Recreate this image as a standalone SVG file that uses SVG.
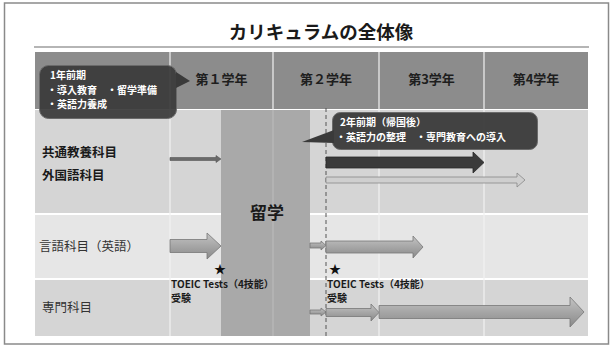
<svg xmlns="http://www.w3.org/2000/svg" width="612" height="347" viewBox="0 0 612 347">
<defs>
<linearGradient id="ag" x1="0" y1="0" x2="0" y2="1">
<stop offset="0" stop-color="#c4c4c4"/>
<stop offset="0.5" stop-color="#a6a6a6"/>
<stop offset="1" stop-color="#8a8a8a"/>
</linearGradient>
<style>
.t{font-family:"Noto Sans CJK JP","Noto Sans",sans-serif;}
.hd{font-size:13px;font-weight:bold;fill:#1e1e1e;text-anchor:middle;}
.lb{font-size:12.5px;fill:#333;}
.lbb{font-size:12.5px;font-weight:bold;fill:#1a1a1a;}
.co{font-size:10px;font-weight:bold;fill:#fff;}
.sm{font-size:10px;font-weight:bold;fill:#1a1a1a;}
.arr{fill:url(#ag);stroke:#777;stroke-width:0.8;}
.vl{stroke:#f2f2f2;stroke-width:1.2;}
</style>
</defs>
<rect x="0" y="0" width="612" height="347" fill="#fff"/>
<rect x="4.5" y="3" width="604" height="341" fill="none" stroke="#8a8a8a" stroke-width="1.5"/>
<g id="title">
<text class="t" x="321" y="39" font-size="18.5" font-weight="bold" fill="#1a1a1a" text-anchor="middle">カリキュラムの全体像</text>
<line x1="34" y1="47" x2="589" y2="47" stroke="#b5b5b5" stroke-width="2"/>
</g>
<g id="table">
<rect x="35" y="52" width="553" height="57" fill="#8c8c8c"/>
<rect x="35" y="110" width="553" height="103" fill="#d5d5d5"/>
<rect x="35" y="215" width="553" height="63" fill="#e6e6e6"/>
<rect x="35" y="280" width="553" height="56" fill="#d5d5d5"/>
<line class="vl" x1="170" y1="52" x2="170" y2="336"/>
<line class="vl" x1="273" y1="52" x2="273" y2="336"/>
<line class="vl" x1="379" y1="52" x2="379" y2="336"/>
<line class="vl" x1="484" y1="52" x2="484" y2="336"/>
</g>
<g id="ryugaku">
<rect x="221" y="110" width="89" height="226" fill="#a9a9a9"/>
<line x1="273" y1="110" x2="273" y2="336" stroke="#bdbdbd" stroke-width="1"/>
<text class="t" x="267" y="219" font-size="17" font-weight="bold" fill="#1a1a1a" text-anchor="middle">留学</text>
</g>
<g id="headers">
<text class="t hd" x="221.5" y="84">第１学年</text>
<text class="t hd" x="326" y="84">第２学年</text>
<text class="t hd" x="431.5" y="84">第3学年</text>
<text class="t hd" x="536" y="84">第4学年</text>
</g>
<g id="labels">
<text class="t lbb" x="42" y="157">共通教養科目</text>
<text class="t lbb" x="42" y="180">外国語科目</text>
<text class="t lb" x="39" y="251">言語科目（英語）</text>
<text class="t lb" x="42" y="312">専門科目</text>
</g>
<g id="connectors">
<line x1="326" y1="108" x2="326" y2="336" stroke="#555" stroke-width="1" stroke-dasharray="4,3"/>
<polygon points="170,157.5 216,157.5 216,155.5 221,159 216,162.5 216,160.5 170,160.5" fill="#6a6a6a" stroke="#555" stroke-width="0.6"/>
<polygon points="326,157 473,157 473,152 484,162.5 473,173 473,168 326,168" fill="#3a3a3a" stroke="#2a2a2a" stroke-width="0.8"/>
<polygon points="326,177 517,177 517,173 525,180 517,187 517,183 326,183" fill="#cfcfcf" stroke="#888" stroke-width="0.8"/>
<polygon class="arr" points="170,239.5 207,239.5 207,233 221,246 207,259 207,252.5 170,252.5"/>
<polygon class="arr" points="310,243 321,243 321,241 326,245.5 321,250 321,248 310,248"/>
<polygon class="arr" points="326,241 413,241 413,236 423,247 413,258 413,253 326,253"/>
<polygon class="arr" points="310,310 321,310 321,308 326,312 321,316 321,314 310,314"/>
<polygon class="arr" points="326,308.5 371,308.5 371,304 379,312.5 371,321 371,316.5 326,316.5"/>
<polygon class="arr" points="379,305.5 570,305.5 570,297 584,312 570,327 570,318.5 379,318.5"/>
</g>
<g id="callout1">
<rect x="39.5" y="65.5" width="137" height="53" rx="9" fill="#3a3a3a" fill-opacity="0.93" stroke="#6a6a6a" stroke-width="1"/>
<polygon points="176,72 190,81 176,88" fill="#3a3a3a"/>
<text class="t co" x="50" y="79">1年前期</text>
<text class="t co" x="47" y="93.5">・導入教育　・留学準備</text>
<text class="t co" x="47" y="108">・英語力養成</text>
</g>
<g id="callout2">
<rect x="332.5" y="112.5" width="205" height="37" rx="8" fill="#3a3a3a" fill-opacity="0.95" stroke="#6a6a6a" stroke-width="1"/>
<polygon points="302,142 334,130 334,143" fill="#3a3a3a"/>
<text class="t co" x="340" y="126">2年前期（帰国後）</text>
<text class="t co" x="336" y="141">・英語力の整理　・専門教育への導入</text>
</g>
<g id="toeic1">
<text class="t" x="220" y="274" font-size="12" fill="#111" text-anchor="middle">★</text>
<text class="t sm" x="171" y="288">TOEIC Tests（4技能）</text>
<text class="t sm" x="171" y="302">受験</text>
</g>
<g id="toeic2">
<text class="t" x="335" y="274" font-size="12" fill="#111" text-anchor="middle">★</text>
<text class="t sm" x="327" y="288">TOEIC Tests（4技能）</text>
<text class="t sm" x="327" y="302">受験</text>
</g>
</svg>
